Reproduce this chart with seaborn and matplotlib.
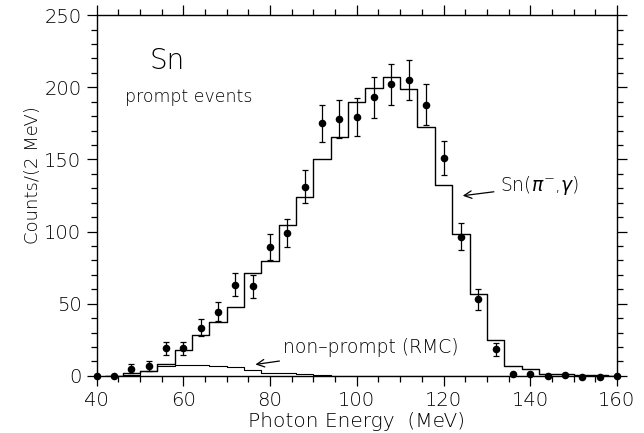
import numpy as np
import pandas as pd
import matplotlib
matplotlib.use("Agg")
import matplotlib.pyplot as plt
import seaborn as sns
from matplotlib.ticker import MultipleLocator

# ---- data ----
energy = [40, 44, 48, 52, 56, 60, 64, 68, 72, 76, 80, 84, 88, 92, 96, 100,
          104, 108, 112, 116, 120, 124, 128, 132, 136, 140, 144, 148, 152, 156, 160]
counts = [0, 0, 5, 7, 19, 19, 33.5, 44.5, 63, 62, 89, 99, 131, 175, 178, 179.5,
          193, 202, 205, 188, 151, 96.5, 53, 18.5, 1, 1, 0, 0.5, -0.5, -0.5, 0]
errors = [0, 0, 3, 3.5, 4.5, 4.5, 6, 6.5, 8, 8, 9, 10, 11.5, 13, 13, 13,
          14, 14, 14, 14, 12, 9.5, 7.5, 4.5, 0, 0, 0, 0, 0, 0, 0]

bin_edges = [42, 46, 50, 54, 58, 62, 66, 70, 74, 78, 82, 86, 90, 94, 98, 102,
             106, 110, 114, 118, 122, 126, 130, 134, 138, 142, 146, 150, 154, 158, 162]
sim_counts = [0, 1.8, 3.7, 8.5, 18, 28.4, 37.6, 48, 71.5, 79.8, 104.3, 124.2, 150,
              165.3, 190, 199.7, 207, 198.5, 172.6, 132, 98, 57, 24.5, 6.5, 5,
              1, 1, 0.5, 0.5, 0]
rmc_counts = [0, 0.5, 3.7, 6.8, 7.2, 7.5, 7.0, 6.3, 4.2, 2.3, 1.8, 1.2, 0.6, 0.2,
              0, 0, 0, 0, 0, 0, 0, 0, 0, 0, 0, 0, 0, 0, 0, 0]

x_label = "Photon Energy  (MeV)"
y_label = "Counts/(2 MeV)"

# ---- plotting ----
sns.set_style("ticks")
plt.rcParams["font.family"] = ["DejaVu Sans"]
plt.rcParams["font.weight"] = "light"
plt.rcParams["axes.labelweight"] = "light"
for key in ["text.color", "axes.labelcolor", "xtick.color", "ytick.color",
            "xtick.labelcolor", "ytick.labelcolor", "axes.edgecolor"]:
    plt.rcParams[key] = "black"

fig = plt.figure(figsize=(6.44, 4.33), dpi=100)
ax = fig.add_axes([0.150, 0.132, 0.808, 0.833])

centers = [(a + b) / 2 for a, b in zip(bin_edges[:-1], bin_edges[1:])]
hist_df = pd.DataFrame({"E": centers, "sim": sim_counts, "rmc": rmc_counts})

sns.histplot(data=hist_df, x="E", weights="sim", bins=bin_edges, element="step",
             fill=False, color="black", linewidth=1.0, ax=ax)
sns.histplot(data=hist_df, x="E", weights="rmc", bins=bin_edges, element="step",
             fill=False, color="black", linewidth=0.8, ax=ax)

pts = pd.DataFrame({"E": energy, "c": counts, "err": errors})
eb = pts[pts["err"] > 0]
ax.errorbar(eb["E"], eb["c"], yerr=eb["err"], fmt="none", ecolor="black",
            elinewidth=0.9, capsize=2.5, capthick=0.9)
sns.scatterplot(data=pts, x="E", y="c", color="black", s=30, edgecolor="black",
                linewidth=0, ax=ax, clip_on=False, zorder=5)

ax.set_xlim(40, 160)
ax.set_ylim(0, 250)
ax.xaxis.set_major_locator(MultipleLocator(20))
ax.xaxis.set_minor_locator(MultipleLocator(5))
ax.yaxis.set_major_locator(MultipleLocator(50))
ax.yaxis.set_minor_locator(MultipleLocator(10))
ax.tick_params(which="both", direction="out", top=True, right=True,
               width=0.9, colors="black")
ax.tick_params(which="major", length=7, labelsize=14, pad=4)
ax.tick_params(which="minor", length=4)
for s in ax.spines.values():
    s.set_visible(True)
    s.set_linewidth(1.0)
    s.set_color("black")

ax.set_xlabel(x_label, fontsize=14.5, labelpad=1, fontweight="light")
ax.set_ylabel(y_label, fontsize=13, fontweight="light")
ax.yaxis.set_label_coords(-0.105, 0.557)

ax.text(52.3, 213, "Sn", fontsize=20, fontweight="light")
ax.text(46.5, 190, "prompt events", fontsize=12.5, fontweight="light")
ax.annotate(r"Sn($\pi^{-}$,$\gamma$)", xy=(123.8, 124.6), xytext=(133, 131.6),
            fontsize=13.5, va="center", fontweight="light",
            arrowprops=dict(arrowstyle="->", color="black", lw=0.9))
ax.annotate("non\u2013prompt (RMC)", xy=(76, 7.6), xytext=(83, 19.4),
            fontsize=13.5, va="center", fontweight="light",
            arrowprops=dict(arrowstyle="->", color="black", lw=0.9))

fig.savefig("out.png", dpi=100)
